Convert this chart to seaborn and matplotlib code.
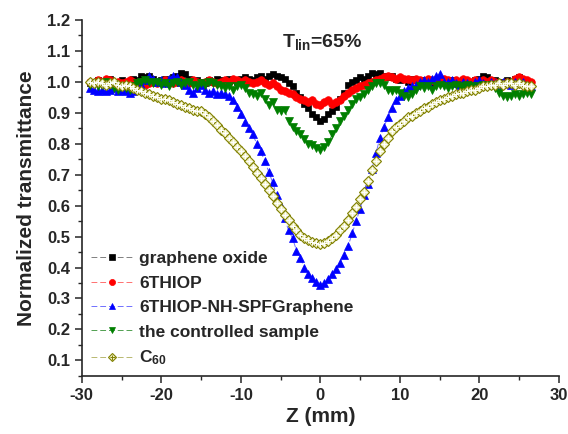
import numpy as np
import matplotlib
matplotlib.use('Agg')
import matplotlib.pyplot as plt
from matplotlib.ticker import MultipleLocator
from matplotlib.legend_handler import HandlerTuple
from matplotlib.lines import Line2D
import seaborn as sns

# ------------------------------------------ Data ------------------------------------------ #
z_mm = [-29.0, -28.5, -28.0, -27.5, -27.0, -26.5, -26.0, -25.5, -25.0, -24.5,
        -24.0, -23.5, -23.0, -22.5, -22.0, -21.5, -21.0, -20.5, -20.0, -19.5,
        -19.0, -18.5, -18.0, -17.5, -17.0, -16.5, -16.0, -15.5, -15.0, -14.5,
        -14.0, -13.5, -13.0, -12.5, -12.0, -11.5, -11.0, -10.5, -10.0, -9.5,
        -9.0, -8.5, -8.0, -7.5, -7.0, -6.5, -6.0, -5.5, -5.0, -4.5,
        -4.0, -3.5, -3.0, -2.5, -2.0, -1.5, -1.0, -0.5, 0.0, 0.5,
        1.0, 1.5, 2.0, 2.5, 3.0, 3.5, 4.0, 4.5, 5.0, 5.5,
        6.0, 6.5, 7.0, 7.5, 8.0, 8.5, 9.0, 9.5, 10.0, 10.5,
        11.0, 11.5, 12.0, 12.5, 13.0, 13.5, 14.0, 14.5, 15.0, 15.5,
        16.0, 16.5, 17.0, 17.5, 18.0, 18.5, 19.0, 19.5, 20.0, 20.5,
        21.0, 21.5, 22.0, 22.5, 23.0, 23.5, 24.0, 24.5, 25.0, 25.5, 26.0, 26.5]

graphene_oxide = [0.995, 1.0, 1.005, 0.995, 1.0, 1.01, 1.0, 0.995, 1.005, 1.0,
                  1.0, 1.01, 1.005, 1.02, 1.015, 1.02, 1.01, 1.0, 1.005, 1.01,
                  1.0, 1.015, 1.02, 1.03, 1.025, 1.01, 1.0, 1.005, 1.0, 0.995,
                  1.005, 1.0, 1.01, 1.005, 1.0, 1.01, 1.005, 1.0, 1.01, 1.015,
                  1.01, 1.005, 1.015, 1.02, 1.01, 1.02, 1.025, 1.02, 1.015, 1.01,
                  0.995, 0.985, 0.965, 0.95, 0.93, 0.915, 0.895, 0.885, 0.875, 0.88,
                  0.895, 0.905, 0.92, 0.945, 0.965, 0.99, 1.0, 1.005, 1.015, 1.01,
                  1.02, 1.03, 1.025, 1.03, 1.02, 1.015, 1.02, 1.01, 1.005, 1.01,
                  1.0, 1.01, 1.005, 1.0, 1.005, 1.0, 0.995, 1.0, 1.005, 1.0,
                  1.0, 1.005, 0.995, 1.0, 1.005, 1.0, 0.995, 1.005, 1.01, 1.02,
                  1.015, 1.0, 1.005, 1.0, 0.995, 1.005, 1.0, 1.01, 1.015, 1.005, 1.0, 0.995]

thiop = [1.0, 0.995, 1.005, 1.0, 1.01, 1.005, 0.995, 1.0, 0.995, 1.0,
         1.005, 1.0, 0.995, 1.0, 0.99, 0.995, 1.0, 0.995, 1.0, 1.005,
         1.0, 0.995, 1.0, 1.005, 1.0, 0.995, 1.005, 1.0, 0.995, 1.0,
         1.005, 1.0, 0.995, 1.0, 1.005, 1.0, 1.01, 1.005, 1.0, 1.005,
         1.0, 0.995, 1.0, 1.005, 0.995, 0.99, 0.995, 0.985, 0.975, 0.97,
         0.965, 0.96, 0.95, 0.945, 0.94, 0.935, 0.94, 0.93, 0.925, 0.935,
         0.94, 0.93, 0.935, 0.94, 0.955, 0.965, 0.975, 0.98, 0.985, 0.99,
         0.995, 1.0, 1.005, 1.01, 1.015, 1.02, 1.015, 1.01, 1.015, 1.01,
         1.01, 1.005, 1.01, 1.005, 1.0, 1.01, 1.005, 1.0, 1.005, 1.01,
         1.005, 1.0, 1.005, 1.0, 1.01, 1.005, 1.0, 1.005, 1.0, 1.005,
         1.0, 1.005, 1.0, 0.995, 0.99, 1.0, 0.995, 1.01, 1.015, 1.01, 1.005, 1.0]

thiop_graphene = [0.98, 0.975, 0.97, 0.975, 0.97, 0.975, 0.98, 0.97, 0.975, 0.97,
                  0.965, 0.97, 0.975, 0.99, 1.005, 1.02, 1.01, 1.0, 1.005, 0.995,
                  1.01, 1.02, 1.015, 1.0, 0.99, 0.975, 0.965, 0.98, 0.99, 0.975,
                  0.965, 0.97, 0.96, 0.965, 0.96, 0.955, 0.94, 0.92, 0.895, 0.87,
                  0.85, 0.83, 0.80, 0.775, 0.745, 0.71, 0.675, 0.635, 0.60, 0.56,
                  0.52, 0.495, 0.455, 0.43, 0.40, 0.38, 0.365, 0.352, 0.345, 0.35,
                  0.362, 0.378, 0.395, 0.415, 0.44, 0.47, 0.51, 0.55, 0.59, 0.635,
                  0.67, 0.72, 0.77, 0.82, 0.855, 0.885, 0.915, 0.94, 0.955, 0.97,
                  0.98, 0.985, 0.99, 1.0, 1.005, 1.0, 1.01, 1.02, 1.025, 1.0,
                  1.0, 1.005, 0.995, 0.99, 1.0, 0.995, 0.99, 1.0, 1.005, 0.995,
                  0.99, 1.0, 0.995, 0.99, 1.0, 0.995, 0.99, 1.0, 0.995, 1.0, 0.99, 0.985]

controlled = [0.99, 0.995, 0.985, 0.99, 1.0, 0.99, 0.98, 0.975, 0.985, 0.98,
              0.975, 0.985, 0.995, 1.0, 1.005, 1.0, 0.995, 1.0, 0.99, 0.995,
              0.985, 0.995, 1.0, 0.99, 0.995, 1.0, 0.99, 0.985, 0.995, 0.99,
              1.0, 0.995, 0.99, 0.985, 0.98, 0.985, 0.975, 0.985, 0.99, 0.98,
              0.965, 0.96, 0.955, 0.965, 0.945, 0.925, 0.935, 0.91, 0.905, 0.91,
              0.875, 0.855, 0.84, 0.83, 0.815, 0.80, 0.795, 0.785, 0.78, 0.79,
              0.805, 0.83, 0.85, 0.875, 0.89, 0.91, 0.93, 0.945, 0.95, 0.96,
              0.975, 0.985, 0.995, 0.995, 0.99, 0.975, 0.97, 0.975, 0.965, 0.955,
              0.95, 0.96, 0.975, 0.985, 0.98, 0.985, 0.975, 0.985, 0.99, 0.985,
              0.98, 0.985, 0.99, 0.985, 0.98, 0.99, 0.985, 0.98, 0.985, 0.99,
              0.985, 0.99, 0.98, 0.965, 0.955, 0.95, 0.955, 0.96, 0.955, 0.96, 0.965, 0.96]

c60 = [1.0, 0.995, 1.0, 0.995, 0.99, 0.995, 1.0, 0.99, 0.985, 0.99,
       0.985, 0.98, 0.975, 0.97, 0.965, 0.96, 0.955, 0.95, 0.945, 0.945,
       0.94, 0.935, 0.93, 0.925, 0.92, 0.915, 0.91, 0.905, 0.905, 0.895,
       0.885, 0.875, 0.86, 0.845, 0.835, 0.82, 0.805, 0.79, 0.775, 0.76,
       0.745, 0.725, 0.705, 0.69, 0.67, 0.65, 0.63, 0.61, 0.59, 0.57,
       0.555, 0.535, 0.52, 0.505, 0.495, 0.488, 0.482, 0.478, 0.476, 0.479,
       0.485, 0.495, 0.505, 0.52, 0.535, 0.555, 0.575, 0.595, 0.62, 0.645,
       0.68, 0.715, 0.745, 0.775, 0.80, 0.82, 0.84, 0.855, 0.865, 0.875,
       0.885, 0.89, 0.90, 0.905, 0.915, 0.92, 0.93, 0.935, 0.94, 0.945,
       0.95, 0.955, 0.96, 0.965, 0.965, 0.97, 0.975, 0.975, 0.98, 0.985,
       0.985, 0.99, 0.99, 0.995, 0.99, 0.995, 0.995, 0.99, 0.995, 0.99, 0.985, 0.985]

labels = ['graphene oxide', '6THIOP', '6THIOP-NH-SPFGraphene', 'the controlled sample', r'C$_\mathbf{60}$']

# ------------------------------------------ Style ------------------------------------------ #
sns.set_style('ticks')
plt.rcParams['font.family'] = ['Liberation Sans', 'DejaVu Sans']
plt.rcParams['font.weight'] = 'bold'
plt.rcParams['axes.unicode_minus'] = False
plt.rcParams['mathtext.fontset'] = 'custom'
plt.rcParams['mathtext.rm'] = 'Liberation Sans:bold'
plt.rcParams['mathtext.bf'] = 'Liberation Sans:bold'
plt.rcParams['mathtext.it'] = 'Liberation Sans:bold'

# (marker colour, line colour, marker, size)
styles = [('#000000', '#808080', 's', 5.0),
          ('#ff0000', '#ff7070', 'o', 5.5),
          ('#0000ff', '#7070ff', '^', 6.0),
          ('#007f00', '#50a050', 'v', 6.0),
          ('#808000', '#b8b870', 'D', 5.5)]
series = [graphene_oxide, thiop, thiop_graphene, controlled, c60]

fig = plt.figure(figsize=(5.68, 4.34), dpi=100)
ax = fig.add_axes([0.144, 0.134, 0.984 - 0.144, 0.954 - 0.134])

for vals, lab, (mc, lc, mk, ms) in zip(series, labels, styles):
    hollow = mk == 'D'
    sns.lineplot(x=z_mm, y=vals, ax=ax, label=lab, sort=False, estimator=None,
                 color=lc, lw=0.7, linestyle=(0, (6, 3)),
                 marker=mk, markersize=ms,
                 markerfacecolor='#f2f2c8' if hollow else mc,
                 markeredgecolor=mc, markeredgewidth=0.8 if hollow else 0.5)

# crosshair inside the C60 diamonds
sns.lineplot(x=z_mm, y=c60, ax=ax, sort=False, estimator=None, lw=0,
             marker='+', markersize=4.5, color='#808000', markeredgewidth=0.7,
             legend=False)

ax.set_xlim(-30, 30)
ax.set_ylim(0.05, 1.2)
ax.xaxis.set_major_locator(MultipleLocator(10))
ax.xaxis.set_minor_locator(MultipleLocator(5))
ax.yaxis.set_minor_locator(MultipleLocator(0.05))
ax.set_yticks(np.arange(0.1, 1.21, 0.1))
ax.set_yticklabels([f'{v:.1f}' for v in np.arange(0.1, 1.21, 0.1)])
ax.tick_params(which='major', direction='out', length=5, width=1.1, labelsize=12)
ax.tick_params(which='minor', direction='out', length=3, width=1.0)
for lab in ax.get_xticklabels() + ax.get_yticklabels():
    lab.set_fontweight('bold')
sns.despine(ax=ax)
for sp in ['left', 'bottom']:
    ax.spines[sp].set_linewidth(1.2)

ax.set_xlabel('Z (mm)', fontsize=15, fontweight='bold', labelpad=3)
ax.set_ylabel('Normalized transmittance', fontsize=15, fontweight='bold', labelpad=8)

ax.text(0.419, 0.924, r'T$_\mathbf{lin}$=65%', transform=ax.transAxes,
        fontsize=14, fontweight='bold', ha='left', va='baseline')

handles, _ = ax.get_legend_handles_labels()
cross = Line2D([], [], lw=0, marker='+', markersize=4.5, color='#808000', markeredgewidth=0.7)
handles = handles[:4] + [(handles[4], cross)]
ax.legend(handles, labels, loc='upper left', bbox_to_anchor=(0.019, 0.35),
          frameon=False, fontsize=12.5, handlelength=2.4, handletextpad=0.4,
          labelspacing=0.53, borderpad=0, borderaxespad=0, markerscale=0.8,
          handler_map={tuple: HandlerTuple(ndivide=1, pad=0)})

fig.savefig('out.png', dpi=100)
